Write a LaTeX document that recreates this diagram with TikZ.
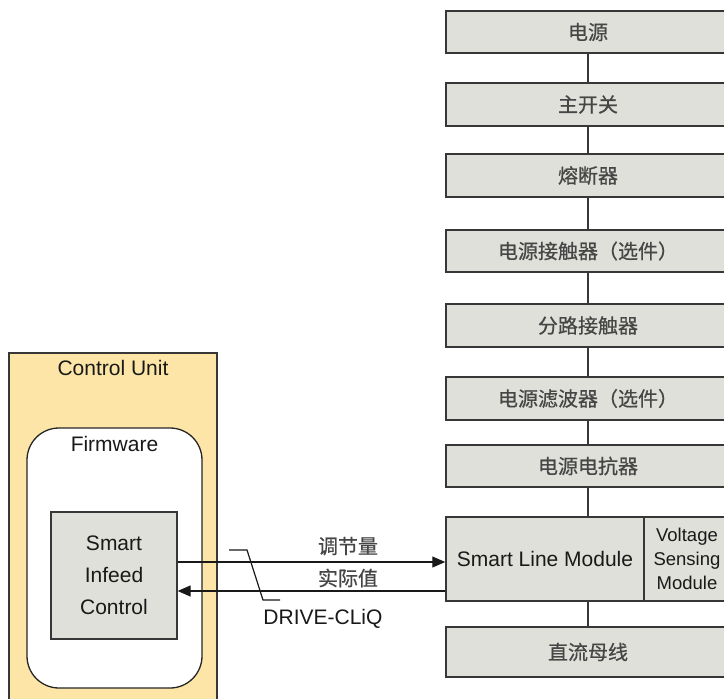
\documentclass[tikz,border=0pt]{standalone}
\usepackage{fontspec}
\setmainfont{Liberation Sans}
\newfontfamily\cjk[FakeBold=0.6]{Noto Sans CJK SC}
\usetikzlibrary{arrows.meta}
\definecolor{cuyellow}{RGB}{252,229,166}
\definecolor{boxgray}{RGB}{224,224,218}
\definecolor{edgegray}{RGB}{55,55,55}
\definecolor{cjkgray}{RGB}{70,70,70}
\begin{document}
\begin{tikzpicture}[x=1pt,y=-1pt,
  chainbox/.style={draw=edgegray, line width=1.5pt, fill=boxgray, minimum width=284pt,
    minimum height=43pt, inner sep=0pt, font=\cjk\fontsize{20}{22}\selectfont, text=cjkgray},
  latin/.style={font=\fontsize{21}{32}\selectfont, text=black!90},
  cjklabel/.style={font=\cjk\fontsize{20}{22}\selectfont, text=cjkgray, inner sep=0pt},
  link/.style={draw=edgegray, line width=1.5pt},
  arr/.style={draw=black!90, line width=1.3pt, -{Triangle[length=13pt,width=11pt]}}
]
\clip (0,0) rectangle (724,699);
\fill[white] (0,0) rectangle (724,699);

% power chain
\node[chainbox, minimum height=42pt] (b1) at (588,32) {电源};
\node[chainbox] (b2) at (588,104.5) {主开关};
\node[chainbox] (b3) at (588,175.5) {熔断器};
\node[chainbox, minimum height=42pt] (b4) at (588,251) {电源接触器（选件）};
\node[chainbox] (b5) at (588,325.5) {分路接触器};
\node[chainbox] (b6) at (588,398.5) {电源滤波器（选件）};
\node[chainbox, minimum height=42pt] (b7) at (588,466) {电源电抗器};
\node[chainbox, minimum width=198pt, minimum height=84pt, latin, text=black!90] (slm) at (545,559) {Smart Line Module};
\node[chainbox, minimum width=86pt, minimum height=84pt, font=\fontsize{18.5}{24}\selectfont, text=black!90, align=center] (vsm) at (687,559) {Voltage\\Sensing\\Module};
\node[chainbox, minimum height=50pt] (dc) at (588,652) {直流母线};

\draw[link] (b1) -- (b2);
\draw[link] (b2) -- (b3);
\draw[link] (b3) -- (b4);
\draw[link] (b4) -- (b5);
\draw[link] (b5) -- (b6);
\draw[link] (b6) -- (b7);
\draw[link] (b7.south) -- (b7.south |- slm.north);
\draw[link] (dc.north |- slm.south) -- (dc.north);

% control unit
\node[draw=edgegray, line width=1.3pt, fill=cuyellow, minimum width=208pt, minimum height=380pt, inner sep=0pt] (cu) at (113,543) {};
\node[latin] (cutitle) at (113,368) {Control Unit};
\node[draw=black!85, line width=1.3pt, fill=white, rounded corners=32pt, minimum width=175pt, minimum height=260pt, inner sep=0pt] (fw) at (114.5,558) {};
\node[latin] (fwtitle) at (114.5,444) {Firmware};
\node[draw=edgegray, line width=1.3pt, fill=boxgray, minimum width=126pt, minimum height=127pt, inner sep=0pt, latin, align=center] (sic) at (114,575.5) {Smart\\Infeed\\Control};

% DRIVE-CLiQ connection
\draw[arr] ([yshift=13.5pt]sic.east) -- ([yshift=13.5pt]sic.east -| slm.west);
\draw[arr] ([yshift=-15.5pt]sic.east -| slm.west) -- ([yshift=-15.5pt]sic.east);
\node[cjklabel] (setp) at (348,546) {调节量};
\node[cjklabel] (act) at (348,578) {实际值};
\node[latin, inner sep=0pt] (dcl) at (323,619) {DRIVE-CLiQ};
\draw[black!90, line width=1.2pt] (229,550) -- (247,550) -- (263,600) -- (280,600);
\end{tikzpicture}
\end{document}
